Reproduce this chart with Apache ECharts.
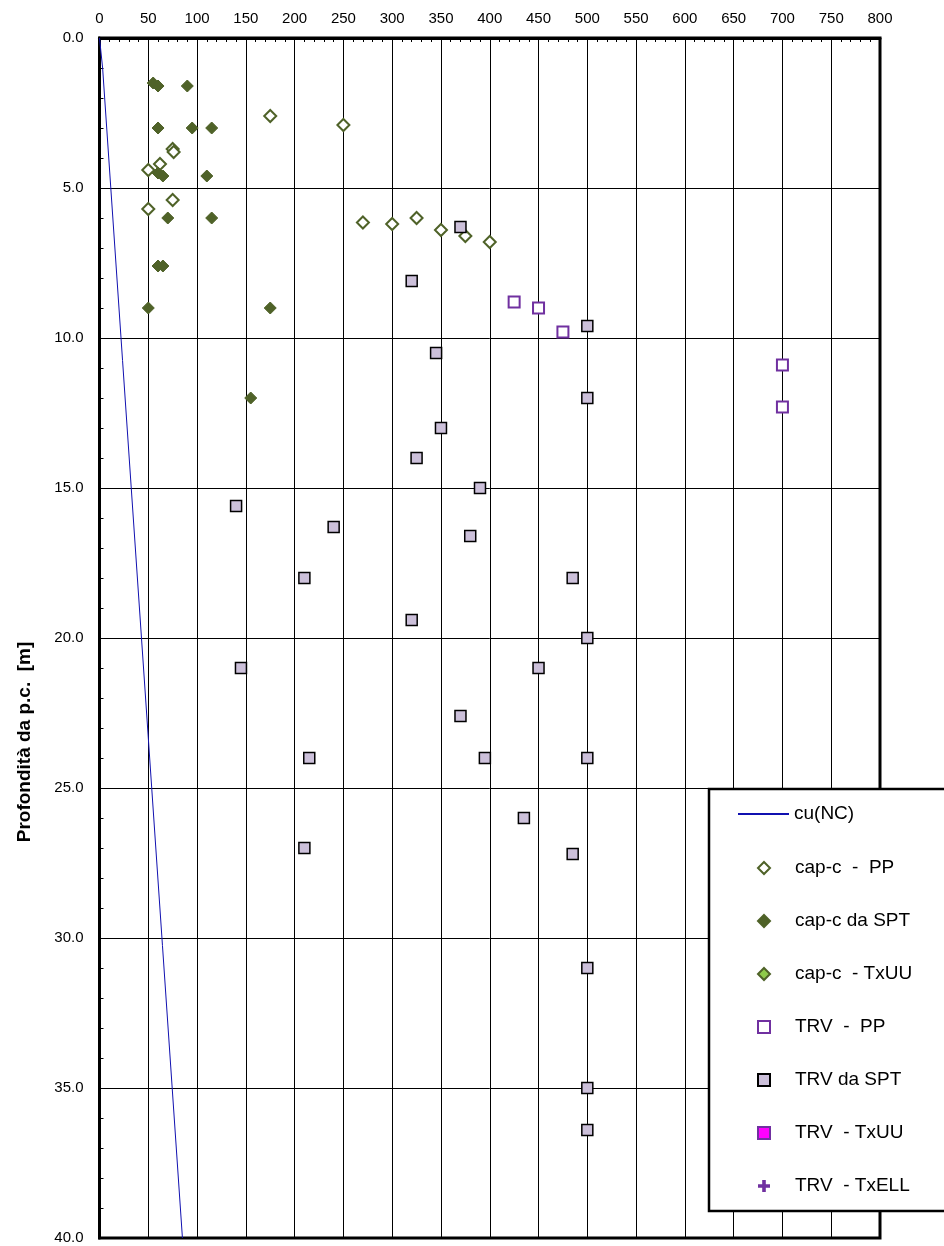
<!DOCTYPE html>
<html>
<head>
<meta charset="utf-8">
<script src="https://cdn.jsdelivr.net/npm/echarts@6/dist/echarts.min.js"></script>
<style>
html,body{margin:0;padding:0;background:#fff;}
#chart{width:944px;height:1246px;}
</style>
</head>
<body>
<div id="chart"></div>
<script>
// ---- data ----
var xTicks = [0,50,100,150,200,250,300,350,400,450,500,550,600,650,700,750,800];
var yTicks = [0,5,10,15,20,25,30,35,40];

var cuDepth = [0, 1, 40];
var cuValue = [0, 3.2, 85];

var capPP_x = [175, 250, 75, 76, 62, 50, 75, 50, 270, 300, 325, 350, 375, 400];
var capPP_y = [2.6, 2.9, 3.7, 3.8, 4.2, 4.4, 5.4, 5.7, 6.15, 6.2, 6.0, 6.4, 6.6, 6.8];

var capSPT_x = [55, 60, 90, 60, 95, 115, 60, 65, 110, 70, 115, 60, 65, 50, 175, 155];
var capSPT_y = [1.5, 1.6, 1.6, 3.0, 3.0, 3.0, 4.5, 4.6, 4.6, 6.0, 6.0, 7.6, 7.6, 9.0, 9.0, 12.0];

var capUU_x = [];
var capUU_y = [];

var trvPP_x = [425, 450, 475, 700, 700];
var trvPP_y = [8.8, 9.0, 9.8, 10.9, 12.3];

var trvSPT_x = [370, 320, 500, 345, 500, 350, 325, 390, 140, 240, 380, 210, 485, 320, 145, 450, 500, 370, 215, 395, 500, 435, 210, 485, 500, 500, 500];
var trvSPT_y = [6.3, 8.1, 9.6, 10.5, 12.0, 13.0, 14.0, 15.0, 15.6, 16.3, 16.6, 18.0, 18.0, 19.4, 21.0, 21.0, 20.0, 22.6, 24.0, 24.0, 24.0, 26.0, 27.0, 27.2, 31.0, 35.0, 36.4];

var trvUU_x = [];
var trvUU_y = [];
var trvELL_x = [];
var trvELL_y = [];

var seriesNames = ['cu(NC)', 'cap-c  -  PP', 'cap-c da SPT', 'cap-c  - TxUU', 'TRV  -  PP', 'TRV da SPT', 'TRV  - TxUU', 'TRV  - TxELL'];
var yAxisName = 'Profondità da p.c.  [m]';

function pairs(xs, ys) { return xs.map(function (x, i) { return [x, ys[i]]; }); }

var FONT = 'Liberation Sans, Arial, sans-serif';
var olive = '#4F6228';
var purple = '#7030A0';
var lineBlue = '#1010B0';
var plusPath = 'path://M3.5,0H6.5V3.5H10V6.5H6.5V10H3.5V6.5H0V3.5H3.5Z';

var legendText = {color: '#000', fontSize: 19, fontFamily: FONT, lineHeight: 23};

var chart = echarts.init(document.getElementById('chart'), null, {renderer: 'canvas'});
chart.setOption({
  animation: false,
  backgroundColor: '#fff',
  textStyle: {fontFamily: FONT},
  grid: {left: 99.5, right: 64, top: 38, bottom: 8, show: true, borderColor: '#000', borderWidth: 3, backgroundColor: 'transparent'},
  xAxis: {
    type: 'value', position: 'top', min: xTicks[0], max: xTicks[xTicks.length - 1], interval: 50,
    axisLine: {show: true, lineStyle: {color: '#000', width: 3}},
    axisTick: {show: true, inside: true, length: 5, lineStyle: {color: '#000'}},
    minorTick: {show: true, splitNumber: 5, length: 4, lineStyle: {color: '#000'}},
    splitLine: {show: true, lineStyle: {color: '#000', width: 1}},
    axisLabel: {color: '#000', fontSize: 15, margin: 12, fontFamily: FONT}
  },
  yAxis: {
    type: 'value', inverse: true, min: yTicks[0], max: yTicks[yTicks.length - 1], interval: 5,
    axisLine: {show: true, lineStyle: {color: '#000', width: 3}},
    axisTick: {show: true, inside: true, length: 5, lineStyle: {color: '#000'}},
    minorTick: {show: true, splitNumber: 5, length: 4, lineStyle: {color: '#000'}},
    splitLine: {show: true, lineStyle: {color: '#000', width: 1}},
    axisLabel: {color: '#000', fontSize: 15, margin: 16, fontFamily: FONT, formatter: function (v) { return v.toFixed(1); }}
  },
  legend: [{
    orient: 'vertical', left: 737, top: 802.5, padding: 0, z: 20,
    itemWidth: 51, itemHeight: 10,
    textStyle: legendText,
    data: [{name: seriesNames[0], itemStyle: {color: 'rgba(0,0,0,0)', borderColor: 'rgba(0,0,0,0)', opacity: 0}}]
  }, {
    orient: 'vertical', left: 757, top: 856.5, padding: 0, z: 20,
    itemWidth: 12, itemHeight: 12, itemGap: 30,
    textStyle: Object.assign({padding: [0, 0, 0, 20]}, legendText),
    data: seriesNames.slice(1)
  }],
  graphic: [{
    type: 'rect', z: 10,
    shape: {x: 709, y: 789, width: 300, height: 422},
    style: {fill: '#fff', stroke: '#000', lineWidth: 2.5}
  }, {
    type: 'text', z: 10, x: 25, y: 742, rotation: Math.PI / 2,
    style: {text: yAxisName, font: 'bold 19px ' + FONT, fill: '#000', align: 'center', verticalAlign: 'middle', textAlign: 'center', textVerticalAlign: 'middle'}
  }],
  series: [
    {name: seriesNames[0], type: 'line', data: pairs(cuValue, cuDepth), symbol: 'none', lineStyle: {color: lineBlue, width: 1}, itemStyle: {color: lineBlue}, z: 3},
    {name: seriesNames[1], type: 'scatter', data: pairs(capPP_x, capPP_y), symbol: 'diamond', symbolSize: 12, itemStyle: {color: '#fff', borderColor: olive, borderWidth: 2, opacity: 1}},
    {name: seriesNames[2], type: 'scatter', data: pairs(capSPT_x, capSPT_y), symbol: 'diamond', symbolSize: 12, itemStyle: {color: olive, borderColor: olive, borderWidth: 1, opacity: 1}},
    {name: seriesNames[3], type: 'scatter', data: pairs(capUU_x, capUU_y), symbol: 'diamond', symbolSize: 12, itemStyle: {color: '#8FCB4A', borderColor: olive, borderWidth: 1.5, opacity: 1}},
    {name: seriesNames[4], type: 'scatter', data: pairs(trvPP_x, trvPP_y), symbol: 'rect', symbolSize: 11, itemStyle: {color: '#fff', borderColor: purple, borderWidth: 2, opacity: 1}},
    {name: seriesNames[5], type: 'scatter', data: pairs(trvSPT_x, trvSPT_y), symbol: 'rect', symbolSize: 11, itemStyle: {color: '#CCC0DA', borderColor: '#000', borderWidth: 1.5, opacity: 1}},
    {name: seriesNames[6], type: 'scatter', data: pairs(trvUU_x, trvUU_y), symbol: 'rect', symbolSize: 11, itemStyle: {color: '#FF00FF', borderColor: purple, borderWidth: 1.5, opacity: 1}},
    {name: seriesNames[7], type: 'scatter', data: pairs(trvELL_x, trvELL_y), symbol: plusPath, symbolSize: 11, itemStyle: {color: purple, opacity: 1}}
  ]
});
</script>
</body>
</html>
